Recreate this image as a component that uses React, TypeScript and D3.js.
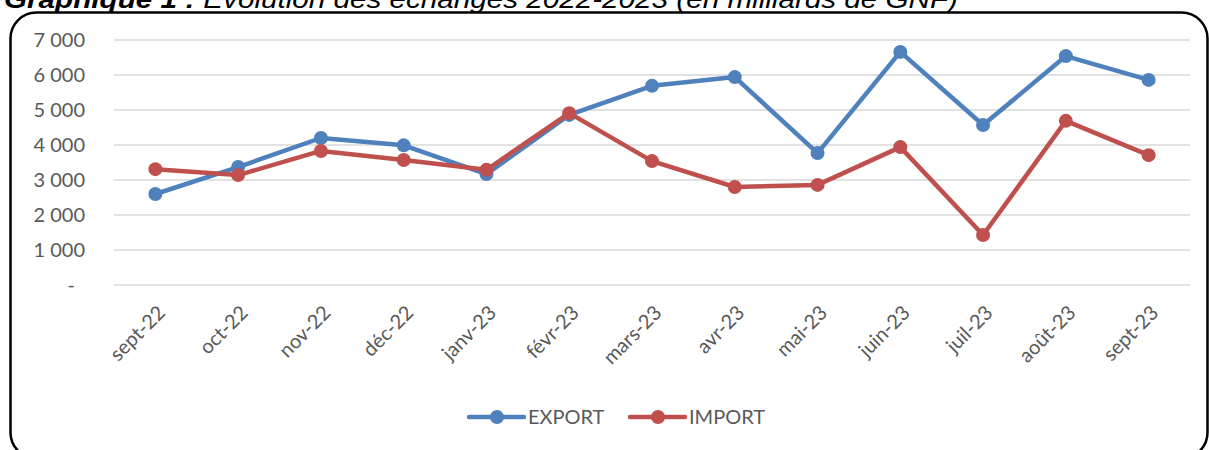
import React, { useRef, useEffect } from 'react';
import * as d3 from 'd3';

const months = ['sept-22', 'oct-22', 'nov-22', 'déc-22', 'janv-23', 'févr-23', 'mars-23', 'avr-23', 'mai-23', 'juin-23', 'juil-23', 'août-23', 'sept-23'];
const exportValues = [2600, 3370, 4200, 3990, 3170, 4860, 5690, 5940, 3770, 6660, 4570, 6540, 5860];
const importValues = [3310, 3140, 3830, 3570, 3290, 4910, 3540, 2800, 2860, 3940, 1430, 4690, 3710];
const yTicks = [0, 1000, 2000, 3000, 4000, 5000, 6000, 7000];

const series = [
  { name: 'EXPORT', values: exportValues, color: '#4F81BD' },
  { name: 'IMPORT', values: importValues, color: '#C0504D' },
];

const W = 1209;
const H = 450;
const font = 'Lato, "Open Sans", sans-serif';

const App = () => {
  const svgRef = useRef<SVGSVGElement>(null);

  useEffect(() => {
    const svg = d3.select(svgRef.current);
    svg.selectAll('*').remove();

    // title, mostly cut off at the top
    const title = svg.append('text')
      .attr('x', 4)
      .attr('y', 8)
      .attr('font-family', '"Liberation Sans", Arial, sans-serif')
      .attr('font-size', 25)
      .attr('font-style', 'italic')
      .attr('fill', '#000')
      .attr('textLength', 954)
      .attr('lengthAdjust', 'spacingAndGlyphs');
    title.append('tspan').attr('font-weight', 'bold').text('Graphique 1 :');
    title.append('tspan').text(' Evolution des échanges 2022-2023 (en milliards de GNF)');

    // frame
    svg.append('rect')
      .attr('x', 10.5)
      .attr('y', 12.5)
      .attr('width', 1197)
      .attr('height', 446)
      .attr('rx', 26)
      .attr('fill', 'none')
      .attr('stroke', '#000')
      .attr('stroke-width', 2.5);

    const x = d3.scalePoint()
      .domain(months)
      .range([114, 1190])
      .padding(0.5);

    const y = d3.scaleLinear()
      .domain([0, 7000])
      .range([285, 40]);

    // grid
    svg.append('g')
      .selectAll('line')
      .data(yTicks)
      .enter()
      .append('line')
      .attr('x1', 114)
      .attr('x2', 1190)
      .attr('y1', (d) => y(d))
      .attr('y2', (d) => y(d))
      .attr('stroke', '#d9d9d9')
      .attr('stroke-width', 1.5);

    // y labels
    svg.append('g')
      .selectAll('text')
      .data(yTicks)
      .enter()
      .append('text')
      .attr('x', (d) => (d === 0 ? 75 : 85))
      .attr('y', (d) => y(d) + 7)
      .attr('text-anchor', 'end')
      .attr('font-family', font)
      .attr('font-size', 20)
      .attr('fill', '#595959')
      .text((d) => (d === 0 ? '-' : d3.format(',')(d).replace(',', ' ')));

    // x labels
    svg.append('g')
      .selectAll('text')
      .data(months)
      .enter()
      .append('text')
      .attr('transform', (d) => `translate(${(x(d) as number) + 11},${314}) rotate(-45)`)
      .attr('text-anchor', 'end')
      .attr('font-family', font)
      .attr('font-size', 20)
      .attr('fill', '#595959')
      .text((d) => d);

    const line = d3.line<number>()
      .x((d, i) => x(months[i]) as number)
      .y((d) => y(d));

    series.forEach((s) => {
      svg.append('path')
        .datum(s.values)
        .attr('d', line)
        .attr('fill', 'none')
        .attr('stroke', s.color)
        .attr('stroke-width', 4.5)
        .attr('stroke-linejoin', 'round')
        .attr('stroke-linecap', 'round');

      svg.append('g')
        .selectAll('circle')
        .data(s.values)
        .enter()
        .append('circle')
        .attr('cx', (d, i) => x(months[i]) as number)
        .attr('cy', (d) => y(d))
        .attr('r', 7)
        .attr('fill', s.color);
    });

    // legend
    const legendX = [469, 630];
    series.forEach((s, i) => {
      const g = svg.append('g').attr('transform', `translate(${legendX[i]},417)`);
      g.append('line')
        .attr('x1', 0)
        .attr('x2', 55)
        .attr('stroke', s.color)
        .attr('stroke-width', 4.5)
        .attr('stroke-linecap', 'round');
      g.append('circle').attr('cx', 28).attr('r', 7).attr('fill', s.color);
      g.append('text')
        .attr('x', 59)
        .attr('y', 7)
        .attr('font-family', font)
        .attr('font-size', 20)
        .attr('fill', '#595959')
        .text(s.name);
    });
  }, []);

  return (
    <svg ref={svgRef} width={W} height={H} style={{ position: 'absolute', left: 0, top: 0, background: '#fff' }}></svg>
  );
};

export default App;
